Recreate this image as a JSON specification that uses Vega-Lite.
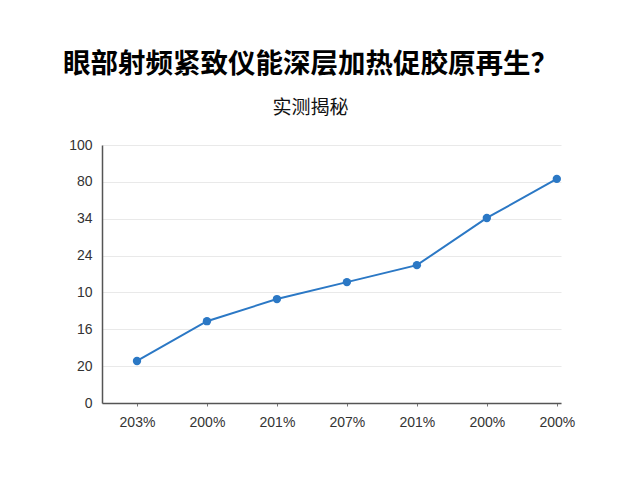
{
  "$schema": "https://vega.github.io/schema/vega-lite/v6.json",
  "width": 459,
  "height": 258,
  "autosize": {"type": "none"},
  "padding": {"left": 102, "top": 145, "right": 79, "bottom": 77},
  "background": "white",
  "title": {
    "text": "眼部射频紧致仪能深层加热促胶原再生？",
    "subtitle": "实测揭秘",
    "anchor": "middle",
    "dx": -21,
    "font": "Noto Sans CJK SC",
    "fontSize": 27.5,
    "fontWeight": "bold",
    "color": "#000000",
    "subtitleFont": "Noto Sans CJK SC",
    "subtitleFontSize": 19,
    "subtitleColor": "#111111",
    "subtitlePadding": 21,
    "offset": 20
  },
  "data": {
    "values": [
      {"idx": 0, "label": "203%", "value": 1.14},
      {"idx": 1, "label": "200%", "value": 2.22},
      {"idx": 2, "label": "201%", "value": 2.82},
      {"idx": 3, "label": "207%", "value": 3.28},
      {"idx": 4, "label": "201%", "value": 3.74},
      {"idx": 5, "label": "200%", "value": 5.02},
      {"idx": 6, "label": "200%", "value": 6.08}
    ]
  },
  "encoding": {
    "x": {
      "field": "idx",
      "type": "quantitative",
      "scale": {"domain": [-0.5, 6.06], "nice": false, "zero": false},
      "axis": {
        "title": null,
        "values": [0, 1, 2, 3, 4, 5, 6],
        "labelExpr": "['203%','200%','201%','207%','201%','200%','200%'][datum.value]",
        "grid": false,
        "domainColor": "#555555",
        "domainWidth": 1.5,
        "ticks": true,
        "tickSize": 3,
        "tickColor": "#777777",
        "labelFont": "Liberation Sans",
        "labelFontSize": 14,
        "labelColor": "#333333",
        "labelPadding": 9
      }
    },
    "y": {
      "field": "value",
      "type": "quantitative",
      "scale": {"domain": [0, 7], "nice": false},
      "axis": {
        "title": null,
        "values": [0, 1, 2, 3, 4, 5, 6, 7],
        "labelExpr": "['0','20','16','10','24','34','80','100'][datum.value]",
        "grid": true,
        "gridColor": "#e9e9e9",
        "gridWidth": 1,
        "domainColor": "#555555",
        "domainWidth": 1.5,
        "ticks": false,
        "labelFont": "Liberation Sans",
        "labelFontSize": 14,
        "labelColor": "#333333",
        "labelPadding": 10
      }
    }
  },
  "layer": [
    {"mark": {"type": "line", "color": "#2b78c5", "strokeWidth": 2}},
    {"mark": {"type": "point", "filled": true, "color": "#2b78c5", "size": 70, "opacity": 1}}
  ],
  "config": {"view": {"stroke": null}}
}
